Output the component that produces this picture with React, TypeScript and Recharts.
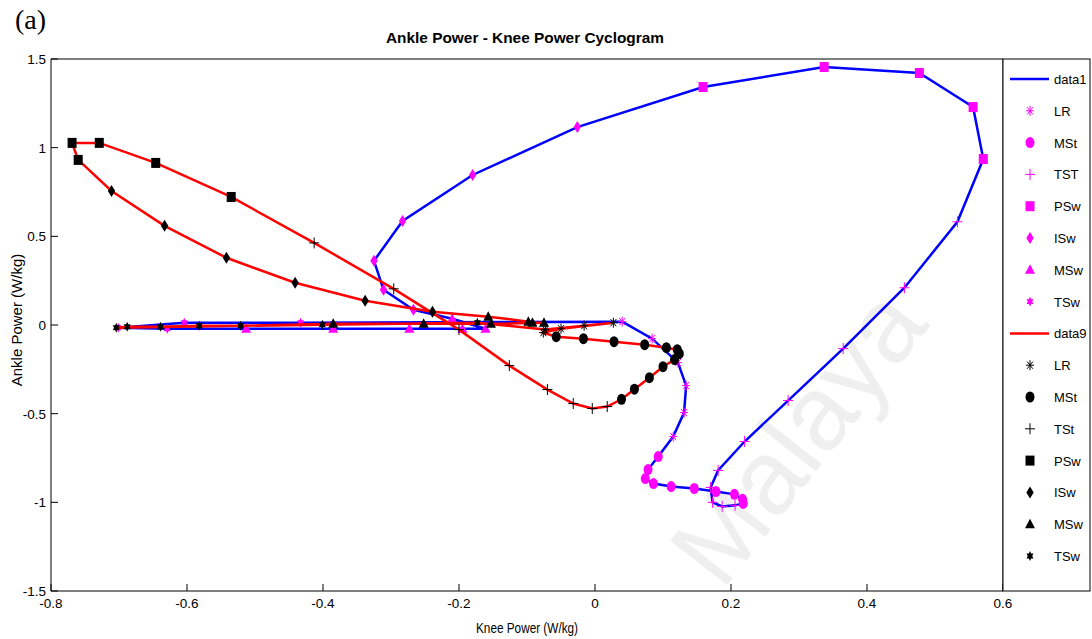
import React from 'react';
import { ScatterChart, Scatter, XAxis, YAxis } from 'recharts';

// ---------------- data (Knee power x, Ankle power y) ----------------
type P = { x: number; y: number };

// data1 (blue line, magenta markers)
const blueLR: P[] = [
  { x: 0.040, y: 0.019 }, { x: 0.084, y: -0.077 }, { x: 0.122, y: -0.212 },
  { x: 0.134, y: -0.342 }, { x: 0.131, y: -0.494 }, { x: 0.115, y: -0.629 },
];
const blueMSt: P[] = [
  { x: 0.093, y: -0.742 }, { x: 0.078, y: -0.815 }, { x: 0.074, y: -0.866 },
  { x: 0.086, y: -0.894 }, { x: 0.112, y: -0.911 }, { x: 0.146, y: -0.922 },
  { x: 0.178, y: -0.939 }, { x: 0.205, y: -0.955 }, { x: 0.217, y: -0.983 },
  { x: 0.218, y: -1.006 },
];
const blueTST: P[] = [
  { x: 0.206, y: -1.017 }, { x: 0.187, y: -1.023 }, { x: 0.173, y: -1.0 },
  { x: 0.170, y: -0.916 }, { x: 0.181, y: -0.820 }, { x: 0.220, y: -0.657 },
  { x: 0.284, y: -0.426 }, { x: 0.365, y: -0.133 }, { x: 0.455, y: 0.210 },
  { x: 0.533, y: 0.582 },
];
const bluePSw: P[] = [
  { x: 0.571, y: 0.936 }, { x: 0.556, y: 1.229 }, { x: 0.477, y: 1.421 },
  { x: 0.337, y: 1.455 }, { x: 0.159, y: 1.342 },
];
const blueISw: P[] = [
  { x: -0.026, y: 1.116 }, { x: -0.180, y: 0.846 }, { x: -0.283, y: 0.587 },
  { x: -0.325, y: 0.362 }, { x: -0.311, y: 0.199 }, { x: -0.267, y: 0.086 },
];
const blueMSw: P[] = [
  { x: -0.210, y: 0.035 }, { x: -0.161, y: -0.021 }, { x: -0.195, y: -0.021 },
  { x: -0.273, y: -0.021 }, { x: -0.385, y: -0.021 }, { x: -0.513, y: -0.021 },
];
const blueTSw: P[] = [
  { x: -0.629, y: -0.021 }, { x: -0.701, y: -0.015 }, { x: -0.604, y: 0.013 },
  { x: -0.433, y: 0.013 },
];

// data9 (red line, black markers)
const redLR: P[] = [
  { x: -0.073, y: -0.026 }, { x: -0.016, y: -0.004 }, { x: 0.027, y: 0.013 },
  { x: -0.050, y: -0.021 }, { x: -0.076, y: -0.043 },
];
const redMSt: P[] = [
  { x: -0.057, y: -0.066 }, { x: -0.017, y: -0.077 }, { x: 0.028, y: -0.094 },
  { x: 0.073, y: -0.111 }, { x: 0.105, y: -0.128 }, { x: 0.121, y: -0.139 },
  { x: 0.124, y: -0.162 }, { x: 0.117, y: -0.195 }, { x: 0.100, y: -0.235 },
  { x: 0.080, y: -0.297 }, { x: 0.058, y: -0.362 }, { x: 0.039, y: -0.419 },
];
const redTSt: P[] = [
  { x: 0.018, y: -0.460 }, { x: -0.004, y: -0.471 }, { x: -0.032, y: -0.443 },
  { x: -0.070, y: -0.364 }, { x: -0.126, y: -0.229 }, { x: -0.200, y: -0.026 },
  { x: -0.296, y: 0.204 }, { x: -0.413, y: 0.463 },
];
const redPSw: P[] = [
  { x: -0.535, y: 0.722 }, { x: -0.646, y: 0.914 }, { x: -0.729, y: 1.027 },
  { x: -0.769, y: 1.027 }, { x: -0.760, y: 0.931 },
];
const redISw: P[] = [
  { x: -0.711, y: 0.756 }, { x: -0.633, y: 0.559 }, { x: -0.542, y: 0.379 },
  { x: -0.441, y: 0.238 }, { x: -0.338, y: 0.137 }, { x: -0.239, y: 0.075 },
];
const redMSw: P[] = [
  { x: -0.157, y: 0.047 }, { x: -0.098, y: 0.019 }, { x: -0.092, y: 0.013 },
  { x: -0.075, y: 0.013 }, { x: -0.153, y: 0.007 }, { x: -0.252, y: 0.007 },
  { x: -0.385, y: 0.007 },
];
const redTSw: P[] = [
  { x: -0.521, y: -0.004 }, { x: -0.582, y: -0.004 }, { x: -0.639, y: -0.010 },
  { x: -0.688, y: -0.010 }, { x: -0.704, y: -0.015 }, { x: -0.401, y: 0.002 },
  { x: -0.173, y: 0.013 },
];

const xTicks = [-0.8, -0.6, -0.4, -0.2, 0, 0.2, 0.4, 0.6];
const yTicks = [-1.5, -1, -0.5, 0, 0.5, 1, 1.5];

const blueNames = ['data1', 'LR', 'MSt', 'TST', 'PSw', 'ISw', 'MSw', 'TSw'];
const redNames = ['data9', 'LR', 'MSt', 'TSt', 'PSw', 'ISw', 'MSw', 'TSw'];

const title = 'Ankle Power - Knee Power Cyclogram';
const xLabel = 'Knee Power (W/kg)';
const yLabel = 'Ankle Power (W/kg)';
const panelLabel = '(a)';
const watermark = 'Malaya';

// ---------------- styling ----------------
const FONT = '"Liberation Sans", Arial, Helvetica, sans-serif';
const BLUE = '#0000ff';
const RED = '#ff0000';
const MAG = '#ff00ff';
const BLK = '#000000';

type Kind = 'asterisk' | 'circle' | 'plus' | 'square' | 'diamond' | 'triangle' | 'hexagram';
const kinds: Kind[] = ['asterisk', 'circle', 'plus', 'square', 'diamond', 'triangle', 'hexagram'];

const Marker = ({ kind, cx, cy, color }: { kind: Kind; cx: number; cy: number; color: string }) => {
  if (cx == null || cy == null || isNaN(cx) || isNaN(cy)) return <g />;
  switch (kind) {
    case 'asterisk': {
      const r = 5;
      const d = 3.6;
      return (
        <g stroke={color} strokeWidth={1}>
          <line x1={cx - 4} y1={cy} x2={cx + 4} y2={cy} />
          <line x1={cx} y1={cy - r} x2={cx} y2={cy + r} />
          <line x1={cx - d * 0.8} y1={cy - d} x2={cx + d * 0.8} y2={cy + d} />
          <line x1={cx - d * 0.8} y1={cy + d} x2={cx + d * 0.8} y2={cy - d} />
        </g>
      );
    }
    case 'circle':
      return <ellipse cx={cx} cy={cy} rx={4.5} ry={5.5} fill={color} />;
    case 'plus':
      return (
        <g stroke={color} strokeWidth={1}>
          <line x1={cx - 5} y1={cy} x2={cx + 5} y2={cy} />
          <line x1={cx} y1={cy - 5.5} x2={cx} y2={cy + 5.5} />
        </g>
      );
    case 'square':
      return <rect x={cx - 4.5} y={cy - 5} width={9} height={10} fill={color} />;
    case 'diamond':
      return (
        <polygon
          points={`${cx},${cy - 6} ${cx + 3.7},${cy} ${cx},${cy + 6} ${cx - 3.7},${cy}`}
          fill={color}
        />
      );
    case 'triangle':
      return (
        <polygon
          points={`${cx},${cy - 5.5} ${cx + 5},${cy + 4} ${cx - 5},${cy + 4}`}
          fill={color}
        />
      );
    case 'hexagram': {
      const pts: string[] = [];
      for (let i = 0; i < 12; i++) {
        const a = -Math.PI / 2 + (i * Math.PI) / 6;
        const rr = i % 2 === 0 ? 5 : 2.8;
        pts.push(`${cx + rr * Math.cos(a) * 0.8},${cy + rr * Math.sin(a)}`);
      }
      return <polygon points={pts.join(' ')} fill={color} />;
    }
    default:
      return <g />;
  }
};

const shapeOf = (kind: Kind, color: string) => (p: any) => (
  <Marker kind={kind} cx={p.cx} cy={p.cy} color={color} />
);
const noShape = () => <g />;

const bluePhases = [blueLR, blueMSt, blueTST, bluePSw, blueISw, blueMSw, blueTSw];
const redPhases = [redLR, redMSt, redTSt, redPSw, redISw, redMSw, redTSw];
const blueLine: P[] = [...bluePhases.flat(), blueLR[0]];
const redLine: P[] = [...redPhases.flat(), redLR[0]];

const XTick = (props: any) => {
  const { x, y, payload } = props;
  return (
    <g>
      <line x1={x} y1={y} x2={x} y2={y - 7} stroke={BLK} strokeWidth={1} />
      <text x={x} y={y + 17} textAnchor="middle" fontSize={13.5} fontFamily={FONT} fill={BLK}>
        {String(payload.value)}
      </text>
    </g>
  );
};

const YTick = (props: any) => {
  const { x, y, payload } = props;
  return (
    <g>
      <line x1={x} y1={y} x2={x + 7} y2={y} stroke={BLK} strokeWidth={1} />
      <text x={x - 5} y={y + 5} textAnchor="end" fontSize={13.5} fontFamily={FONT} fill={BLK}>
        {String(payload.value)}
      </text>
    </g>
  );
};

const Legend = () => {
  const x0 = 1003;
  const y0 = 59;
  const rowH = 31.8;
  const rows = [
    ...blueNames.map((n, i) => ({ n, i, color: i === 0 ? BLUE : MAG, line: i === 0 })),
    ...redNames.map((n, i) => ({ n, i, color: i === 0 ? RED : BLK, line: i === 0 })),
  ];
  return (
    <g>
      <rect x={x0} y={y0} width={87} height={532} fill="#fff" stroke={BLK} strokeWidth={1} />
      {rows.map((r, k) => {
        const cy = 79 + k * rowH;
        return (
          <g key={k}>
            {r.line ? (
              <line x1={1010} y1={cy} x2={1049} y2={cy} stroke={r.color} strokeWidth={2.5} />
            ) : (
              <Marker kind={kinds[r.i - 1]} cx={1030} cy={cy} color={r.color} />
            )}
            <text x={1054} y={cy + 5} fontSize={13} fontFamily={FONT} fill={BLK}>
              {r.n}
            </text>
          </g>
        );
      })}
    </g>
  );
};

export default function App() {
  return (
    <div style={{ position: 'absolute', left: 0, top: 0, width: 1092, height: 639, background: '#fff' }}>
      <svg width={1092} height={639} style={{ position: 'absolute', left: 0, top: 0 }}>
        <text
          x={722}
          y={592}
          fontSize={105}
          fontFamily={FONT}
          fill="#efefef"
          transform="rotate(-52 722 592)"
        >
          {watermark}
        </text>
      </svg>
      <div style={{ position: 'absolute', left: 0, top: 0 }}>
        <ScatterChart width={1092} height={639} margin={{ top: 59, right: 89, bottom: 0, left: 0 }}>
          <XAxis
            xAxisId={0}
            type="number"
            dataKey="x"
            domain={[-0.8, 0.6]}
            ticks={xTicks}
            allowDataOverflow
            height={48}
            tickSize={0}
            tickMargin={0}
            tickLine={false}
            tick={<XTick />}
            axisLine={{ stroke: BLK, strokeWidth: 1 }}
            interval={0}
          />
          <XAxis
            xAxisId="top"
            orientation="top"
            type="number"
            dataKey="x"
            domain={[-0.8, 0.6]}
            ticks={xTicks}
            allowDataOverflow
            mirror
            tickSize={7}
            tick={false}
            tickLine={{ stroke: BLK }}
            axisLine={{ stroke: BLK, strokeWidth: 1 }}
            interval={0}
          />
          <YAxis
            yAxisId={0}
            type="number"
            dataKey="y"
            domain={[-1.5, 1.5]}
            ticks={yTicks}
            allowDataOverflow
            width={51}
            tickSize={0}
            tickMargin={0}
            tickLine={false}
            tick={<YTick />}
            axisLine={{ stroke: BLK, strokeWidth: 1 }}
            interval={0}
          />
          <YAxis
            yAxisId="right"
            orientation="right"
            type="number"
            dataKey="y"
            domain={[-1.5, 1.5]}
            ticks={yTicks}
            allowDataOverflow
            mirror
            tickSize={7}
            tick={false}
            tickLine={{ stroke: BLK }}
            axisLine={{ stroke: BLK, strokeWidth: 1 }}
            interval={0}
          />
          <Scatter
            name="data1"
            data={blueLine}
            line={{ stroke: BLUE, strokeWidth: 2.5 }}
            shape={noShape}
            isAnimationActive={false}
          />
          {bluePhases.map((d, i) => (
            <Scatter
              key={'b' + i}
              name={blueNames[i + 1]}
              data={d}
              shape={shapeOf(kinds[i], MAG)}
              isAnimationActive={false}
            />
          ))}
          <Scatter
            name="data9"
            data={redLine}
            line={{ stroke: RED, strokeWidth: 2.5 }}
            shape={noShape}
            isAnimationActive={false}
          />
          {redPhases.map((d, i) => (
            <Scatter
              key={'r' + i}
              name={redNames[i + 1]}
              data={d}
              shape={shapeOf(kinds[i], BLK)}
              isAnimationActive={false}
            />
          ))}
        </ScatterChart>
      </div>
      <svg width={1092} height={639} style={{ position: 'absolute', left: 0, top: 0, pointerEvents: 'none' }}>
        <text x={15} y={29} fontSize={28} fontFamily='"Liberation Serif", "Times New Roman", serif' fill={BLK}>
          {panelLabel}
        </text>
        <text
          x={525}
          y={43}
          textAnchor="middle"
          fontSize={15}
          fontWeight="bold"
          fontFamily={FONT}
          fill={BLK}
          textLength={278}
          lengthAdjust="spacingAndGlyphs"
        >
          {title}
        </text>
        <text
          x={527}
          y={633}
          textAnchor="middle"
          fontSize={14}
          fontFamily={FONT}
          fill={BLK}
          textLength={102}
          lengthAdjust="spacingAndGlyphs"
        >
          {xLabel}
        </text>
        <text
          x={22}
          y={320}
          textAnchor="middle"
          fontSize={15}
          fontFamily={FONT}
          fill={BLK}
          transform="rotate(-90 22 320)"
        >
          {yLabel}
        </text>
        <Legend />
      </svg>
    </div>
  );
}
